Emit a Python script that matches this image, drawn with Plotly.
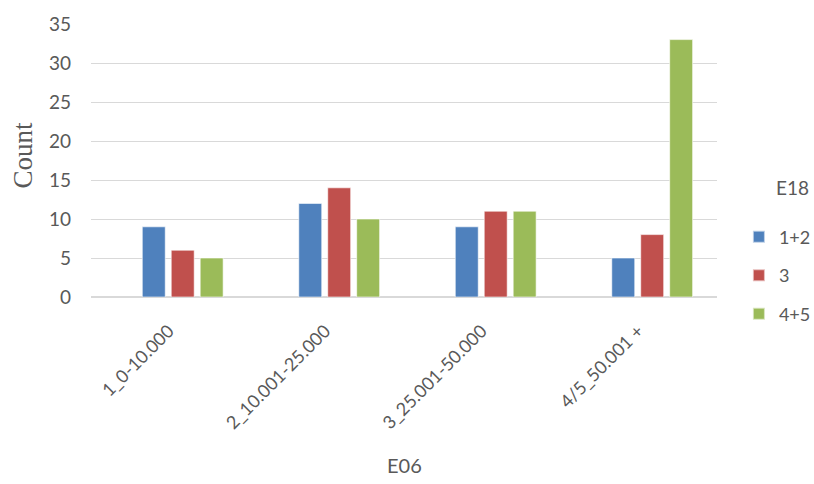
import plotly.graph_objects as go

categories = ["1_0-10.000", "2_10.001-25.000", "3_25.001-50.000", "4/5_50.001 +"]
series_names = ["1+2", "3", "4+5"]
vals_12 = [9, 12, 9, 5]
vals_3 = [6, 14, 11, 8]
vals_45 = [5, 10, 11, 33]
colors = ["#4F81BD", "#C0504D", "#9BBB59"]

fig = go.Figure()
for name, vals, c in zip(series_names, [vals_12, vals_3, vals_45], colors):
    fig.add_trace(go.Bar(x=categories, y=vals, name=name, legendgroup=name,
                         marker=dict(color=c, line=dict(color="rgba(255,255,255,0.6)", width=1))))

grey = "#595959"
font_xt = dict(family="Lato, Open Sans, sans-serif", size=18, color=grey)
font_yt = dict(family="Lato, Open Sans, sans-serif", size=19, color=grey)
fig.update_layout(
    width=814, height=484,
    margin=dict(l=91, r=97, t=24, b=187, autoexpand=False),
    paper_bgcolor="white", plot_bgcolor="white",
    barmode="group", bargap=0.445, bargroupgap=0.207,
    showlegend=True,
    legend=dict(font=dict(family="Lato, sans-serif", size=18, color=grey),
                x=1.035, xanchor="left", y=0.287, yanchor="top",
                itemsizing="constant", tracegroupgap=12),
    xaxis=dict(tickfont=font_xt, tickangle=-45, showgrid=False, showline=False, ticks="",
               range=[-0.586, 3.414],
               ticklabelstandoff=19, ticklabelshift=-14, automargin=False),
    yaxis=dict(range=[0, 35], dtick=5, tickfont=font_yt, gridcolor="#D9D9D9", gridwidth=1,
               zeroline=True, zerolinecolor="#D9D9D9", showline=False, ticks="",
               ticklabelstandoff=19, automargin=False),
    annotations=[
        dict(text="Count", xref="paper", yref="paper", x=0, y=0.5, xanchor="center", yanchor="middle",
             xshift=-69, yshift=5, textangle=-90, showarrow=False,
             font=dict(family="Liberation Serif, DejaVu Serif, serif", size=27, color=grey)),
        dict(text="E06", xref="paper", yref="paper", x=0.5, y=0, xanchor="center", yanchor="middle",
             yshift=-168, showarrow=False,
             font=dict(family="Lato, sans-serif", size=20, color=grey)),
        dict(text="E18", xref="paper", yref="paper", x=1, y=0, xanchor="left", yanchor="middle",
             xshift=57, yshift=110, showarrow=False,
             font=dict(family="Lato, sans-serif", size=19, color=grey)),
    ],
)
fig.write_html("out.html", post_script="document.body.style.margin='0';",
               config={"displayModeBar": False})
